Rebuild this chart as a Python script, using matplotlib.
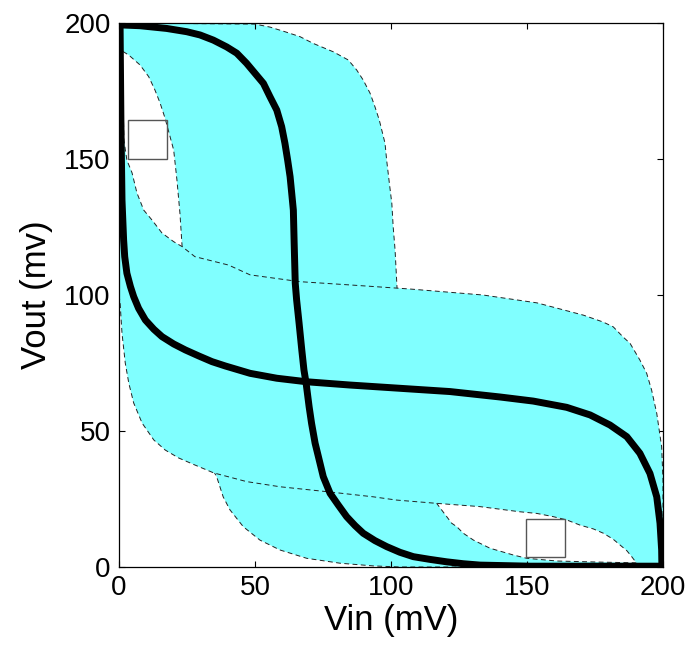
import matplotlib
matplotlib.use("Agg")
import matplotlib.pyplot as plt
from matplotlib.patches import Rectangle, Polygon

plt.rcParams['font.family'] = ['Liberation Sans', 'DejaVu Sans']

# transfer curves (butterfly)
curve_a_x = [0.4, 7.7, 17.5, 24.9, 29.8, 34.7, 39.6, 43.3, 46.9, 50.0, 53.1, 55.5, 58.0, 59.8, 61.0,
             62.0, 62.9, 63.5, 64.1, 64.4, 64.8, 65.3, 66.2, 67.2, 68.0, 68.8, 69.9, 70.8, 72.1, 73.3,
             75.1, 77.6, 80.6, 83.7, 86.8, 89.8, 94.1, 98.4, 103.3, 108.2, 114.3, 120.5, 126.6, 132.7,
             151.1, 200.0]
curve_a_y = [199.3, 199.0, 198.0, 196.8, 195.6, 193.7, 191.2, 188.9, 185.2, 181.5, 177.8, 172.9, 168.0, 161.9, 155.8,
             149.6, 143.5, 137.4, 131.2, 119.0, 104.3, 98.2, 89.7, 79.8, 72.4, 67.5, 58.9, 52.8, 45.5, 40.6,
             33.2, 27.1, 22.8, 18.5, 15.2, 12.4, 9.7, 7.5, 5.4, 3.8, 2.8, 1.9, 1.2, 0.7,
             0.3, 0.3]

curve_b_x = [0.4, 0.7, 1.1, 1.7, 2.1, 2.9, 4.2, 5.4, 7.2, 9.7, 12.8, 15.8, 20.1, 24.4, 29.3, 34.2,
             39.1, 48.2, 58.0, 69.0, 84.9, 103.3, 121.7, 140.1, 152.3, 164.6, 173.2, 180.5, 186.7,
             191.5, 195.2, 197.7, 198.9, 199.5, 199.6]
curve_b_y = [199.3, 164.3, 134.9, 120.2, 114.1, 108.0, 103.1, 99.4, 95.1, 90.8, 87.4, 84.7, 82.0, 79.8, 77.6, 75.5,
             73.9, 71.2, 69.4, 68.1, 66.9, 65.7, 64.5, 62.5, 61.0, 58.7, 55.9, 52.2, 47.9,
             41.8, 34.4, 25.8, 16.1, 6.3, 0.0]

# spread of curve A (lower/left and upper/right bounds)
lo_a_x = [0.0, 0.7, 3.6, 7.7, 10.9, 13.2, 15.1, 16.9, 18.8, 20.1, 21.3, 22.4, 23.2, 24.6, 25.8, 27.7,
          29.5, 31.4, 34.4, 35.9, 38.3, 40.8, 45.7, 51.8, 59.2, 69.0, 81.2, 93.5, 103.3, 200.0]
lo_a_y = [192.0, 190.0, 188.2, 184.6, 180.3, 175.4, 170.6, 165.1, 158.1, 153.3, 142.3, 130.1, 117.8, 102.1, 93.5, 76.4,
          59.2, 46.9, 35.9, 33.2, 25.8, 21.0, 14.8, 9.9, 6.25, 3.2, 1.4, 0.4, 0.0, 0.0]
hi_a_x = [0.0, 50.0, 55.5, 61.0, 66.5, 71.4, 78.8, 84.3, 87.4, 89.8, 92.3, 94.1, 95.7, 97.8, 98.4, 99.4,
          100.3, 100.8, 101.5, 102.2, 103.5, 105.0, 107.5, 110.5, 114.0, 116.8, 118.6, 120.5, 122.3, 124.2,
          126.6, 130.3, 136.4, 145.0, 149.9, 161.0, 176.8, 191.5, 200.0]
hi_a_y = [200.0, 199.6, 198.5, 196.8, 195.0, 192.5, 189.4, 186.4, 182.7, 179.0, 174.2, 169.2, 164.3, 155.8, 149.6, 141.1,
          133.7, 125.1, 116.5, 102.9, 85.0, 66.0, 50.0, 39.0, 28.0, 23.4, 21.0, 18.5, 16.1, 14.8,
          12.4, 9.9, 6.9, 4.4, 3.2, 2.2, 1.8, 1.5, 0.0]

# spread of curve B
lo_b_x = [0.0, 0.4, 1.1, 2.3, 3.6, 5.4, 8.5, 12.8, 17.0, 21.9, 27.9, 34.8, 46.9, 59.2, 76.4, 93.5, 102.1,
          116.8, 132.7, 147.4, 153.6, 159.7, 164.6, 169.5, 174.4, 178.1, 181.7, 184.2, 186.7, 188.5, 190.3,
          191.5, 200.0]
lo_b_y = [100.0, 97.1, 86.0, 75.0, 67.6, 60.3, 52.9, 46.7, 43.0, 40.1, 37.5, 34.6, 31.4, 29.5, 27.7, 25.8, 24.6,
          23.4, 22.2, 20.3, 19.7, 18.5, 17.3, 15.4, 14.0, 12.4, 10.2, 8.1, 6.0, 3.8, 1.4,
          0.0, 0.0]
hi_b_x = [0.0, 0.7, 1.5, 1.8, 2.9, 4.8, 6.6, 9.1, 12.1, 15.8, 20.1, 23.2, 27.9, 40.3, 48.2, 66.5, 84.9,
          107.0, 133.8, 153.7, 170.7, 177.9, 181.7, 185.3, 187.9, 191.5, 194.0, 195.8, 197.7, 199.5, 200.0, 200.0]
hi_b_y = [200.0, 190.0, 171.7, 157.0, 149.6, 144.9, 137.5, 131.2, 127.6, 122.8, 119.6, 117.8, 114.1, 111.0, 107.4,
          104.9, 103.7, 102.2, 100.0, 97.1, 92.6, 90.1, 88.3, 84.6, 82.2, 76.1, 71.2, 65.1, 56.5, 44.2, 32.0, 0.0]

# marker squares (lower-left corner, side)
sq_x = [3.2, 149.8]
sq_y = [150.0, 3.8]
sq_side = [14.5, 14.0]

ticks = [0, 50, 100, 150, 200]

fig = plt.figure(figsize=(6.91, 6.49), dpi=100)
ax = fig.add_axes([119 / 691, 82 / 649, 544 / 691, 544 / 649])

fill_c = '#80ffff'
dash = dict(color='#222222', lw=0.7, dashes=(5, 3.5))
thick = dict(color='black', lw=5.0, solid_capstyle='round', solid_joinstyle='round', zorder=5)

# band A first, band B drawn over it
ax.add_patch(Polygon(list(zip(hi_a_x, hi_a_y)) + list(zip(lo_a_x, lo_a_y))[::-1],
                     closed=True, facecolor=fill_c, edgecolor='none', zorder=1))
ax.plot(lo_a_x, lo_a_y, zorder=2, **dash)
ax.plot(hi_a_x, hi_a_y, zorder=2, **dash)

ax.add_patch(Polygon(list(zip(hi_b_x, hi_b_y)) + list(zip(lo_b_x, lo_b_y))[::-1],
                     closed=True, facecolor=fill_c, edgecolor='none', zorder=3))
ax.plot(lo_b_x, lo_b_y, zorder=4, **dash)
ax.plot(hi_b_x, hi_b_y, zorder=4, **dash)

ax.plot(curve_a_x, curve_a_y, **thick)
ax.plot(curve_b_x, curve_b_y, **thick)

for x0, y0, s in zip(sq_x, sq_y, sq_side):
    ax.add_patch(Rectangle((x0, y0), s, s, fill=False, edgecolor='#555555', lw=1.0, zorder=6))

ax.set_xlim(0, 200)
ax.set_ylim(0, 200)
ax.set_xticks(ticks)
ax.set_yticks(ticks)
ax.tick_params(direction='in', length=4.5, width=0.8, labelsize=20, top=True, right=True, pad=6)
for sp in ax.spines.values():
    sp.set_linewidth(0.9)
    sp.set_zorder(10)

ax.set_xlabel('Vin (mV)', fontsize=25, labelpad=2)
ax.set_ylabel('Vout (mv)', fontsize=25, labelpad=8)

fig.savefig('out.png', dpi=100)
